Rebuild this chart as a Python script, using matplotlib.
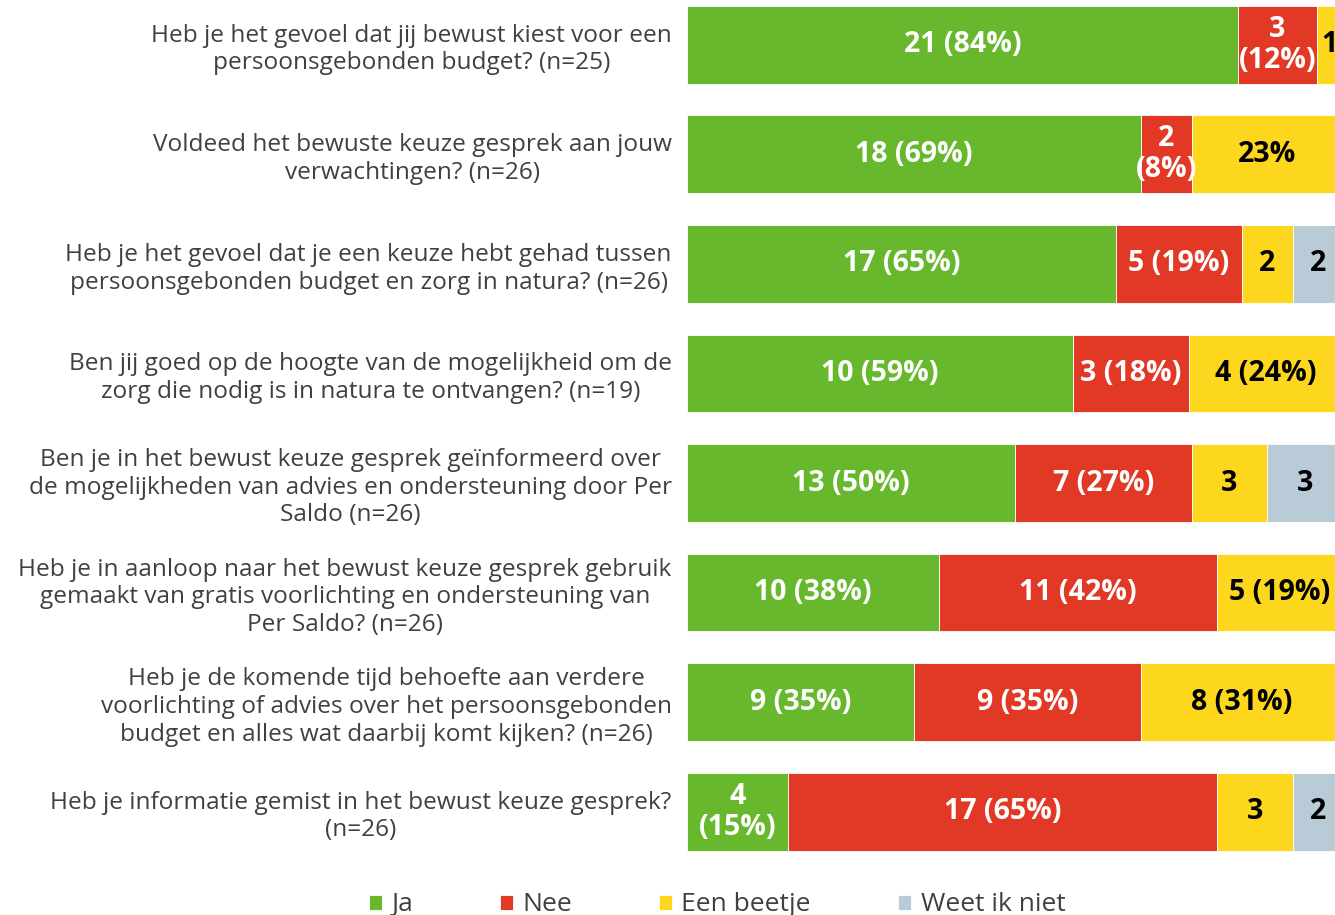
import matplotlib
matplotlib.use("Agg")
import numpy as np
from matplotlib import pyplot as plt

plt.rcParams['font.family'] = ['Open Sans', 'DejaVu Sans']

# questions, top to bottom
questions = [
    "Heb je het gevoel dat jij bewust kiest voor een\npersoonsgebonden budget? (n=25)",
    "Voldeed het bewuste keuze gesprek aan jouw\nverwachtingen? (n=26)",
    "Heb je het gevoel dat je een keuze hebt gehad tussen\npersoonsgebonden budget en zorg in natura? (n=26)",
    "Ben jij goed op de hoogte van de mogelijkheid om de\nzorg die nodig is in natura te ontvangen? (n=19)",
    "Ben je in het bewust keuze gesprek geïnformeerd over\nde mogelijkheden van advies en ondersteuning door Per\nSaldo (n=26)",
    "Heb je in aanloop naar het bewust keuze gesprek gebruik\ngemaakt van gratis voorlichting en ondersteuning van\nPer Saldo? (n=26)",
    "Heb je de komende tijd behoefte aan verdere\nvoorlichting of advies over het persoonsgebonden\nbudget en alles wat daarbij komt kijken? (n=26)",
    "Heb je informatie gemist in het bewust keuze gesprek?\n(n=26)",
]
categories = ["Ja", "Nee", "Een beetje", "Weet ik niet"]
ja = [21, 18, 17, 10, 13, 10, 9, 4]
nee = [3, 2, 5, 3, 7, 11, 9, 17]
beetje = [1, 6, 2, 4, 3, 5, 8, 3]
weet_niet = [0, 0, 2, 0, 3, 0, 0, 2]

ja_labels = ["21 (84%)", "18 (69%)", "17 (65%)", "10 (59%)", "13 (50%)", "10 (38%)", "9 (35%)", "4\n(15%)"]
nee_labels = ["3\n(12%)", "2\n(8%)", "5 (19%)", "3 (18%)", "7 (27%)", "11 (42%)", "9 (35%)", "17 (65%)"]
beetje_labels = ["1", "23%", "2", "4 (24%)", "3", "5 (19%)", "8 (31%)", "3"]
weet_labels = ["", "", "2", "", "3", "", "", "2"]

colors = ["#67B82D", "#E23826", "#FCD71E", "#B9CBD7"]
text_colors = ["white", "white", "black", "black"]

counts = np.array([ja, nee, beetje, weet_niet], dtype=float)
share = counts / counts.sum(axis=0) * 100
labels = [ja_labels, nee_labels, beetje_labels, weet_labels]

fig = plt.figure(figsize=(13.35, 9.15), dpi=100)
ax = fig.add_axes([687 / 1335, 54 / 915, 656 / 1335, 860 / 915])

y = np.arange(len(questions))
left = np.zeros(len(questions))
for i, cat in enumerate(categories):
    bars = ax.barh(y, share[i], left=left, height=0.71, color=colors[i],
                   edgecolor="white", linewidth=0.6, label=cat)
    ax.bar_label(bars, labels=labels[i], label_type="center", color=text_colors[i],
                 fontsize=20.5, fontweight="bold", linespacing=1.1)
    left += share[i]

ax.set_xlim(0, 100)
ax.set_ylim(7.45, -0.4)
ax.set_yticks(y)
ax.set_yticklabels(questions, fontsize=17.6, color="#404040", multialignment="center",
                   linespacing=1.2)
ax.tick_params(axis="y", length=0, pad=11)
ax.set_xticks([])
for s in ax.spines.values():
    s.set_visible(False)

fig.legend(loc="center", bbox_to_anchor=(0.537, 0.011), ncol=4, frameon=False,
           fontsize=19, handlelength=0.5, handleheight=0.5, handletextpad=0.35,
           columnspacing=3.3, labelcolor="#404040")

fig.savefig("out.png", dpi=100)
